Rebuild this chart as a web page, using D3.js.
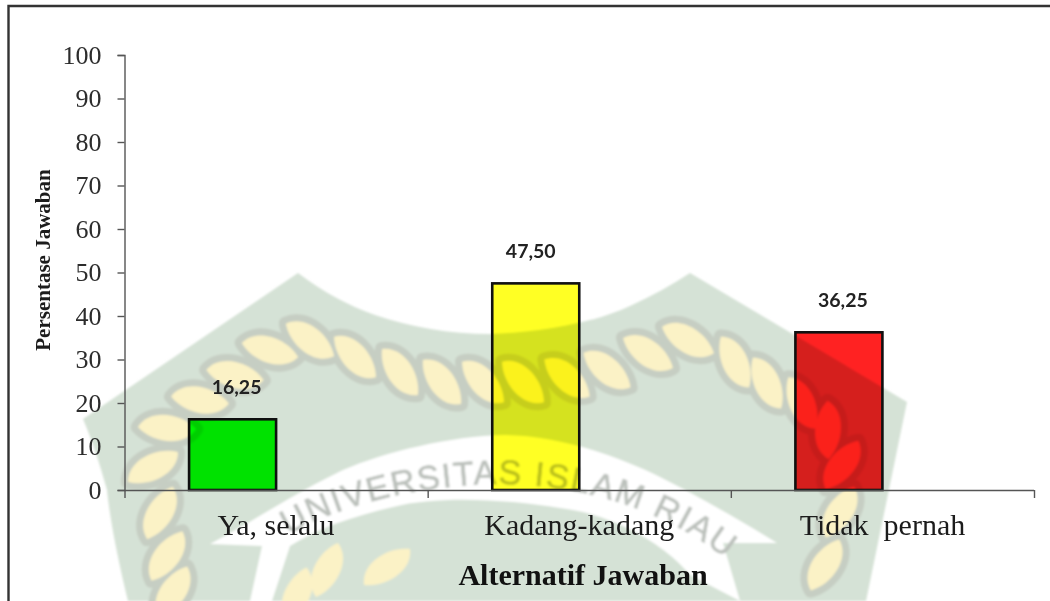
<!DOCTYPE html>
<html>
<head>
<meta charset="utf-8">
<script src="https://cdnjs.cloudflare.com/ajax/libs/d3/7.8.5/d3.min.js"></script>
<style>
html,body{margin:0;padding:0;background:#fff;overflow:hidden}
svg{display:block}
.serif{font-family:"Liberation Serif",serif}
</style>
</head>
<body>
<svg id="chart" width="1050" height="601"></svg>
<script>
// Data
const categories = ["Ya, selalu", "Kadang-kadang", "Tidak  pernah"];
const values = [16.25, 47.5, 36.25];
const valueLabels = ["16,25", "47,50", "36,25"];
const barColors = ["#00ff00", "#ffff24", "#ff2222"];
const yTicks = [0, 10, 20, 30, 40, 50, 60, 70, 80, 90, 100];
const yTitle = "Persentase Jawaban";
const xTitle = "Alternatif Jawaban";
const watermarkText = "UNIVERSITAS ISLAM RIAU";

// Background watermark geometry (decoration, not data): [cx, cy, angle]
const wreathLeaves = [
  [173,592,-55],[167,556,-52],[160,513,-58],[153,467,-25],[167,428,8],[200,400,13],[235,375,16],[270,350,20],
  [310,340,40],[355,357,50],[400,372,58],[442,382,55],[483,382,50],[523,382,50],[567,378,45],[607,370,42],
  [648,353,37],[688,340,33],[735,362,67],[767,383,67],[802,403,68],[828,430,95],[842,465,-50],[840,512,-55],[825,565,-55]
];
const innerLeaves = [[327,570,-62],[387,567,-32],[297,595,-65]];

const svg = d3.select("#chart");
const W = 1050, H = 601;

// ---------- watermark ----------
svg.append("defs").append("filter").attr("id", "soft")
  .attr("x", "-5%").attr("y", "-5%").attr("width", "110%").attr("height", "110%")
  .append("feGaussianBlur").attr("stdDeviation", 1);
const wm = svg.append("g").attr("filter", "url(#soft)");

wm.append("path")
  .attr("d", "M298,273 C320,290 345,304 375,315 C410,327 450,334 490,334 C530,333 590,325 630,306 C652,296 672,285 690,273 L907,402 L866,601 L128,601 C118,560 110,520 107,490 C100,465 92,440 83,419 Z")
  .attr("fill", "#d5e2d6");

// white ribbon
wm.append("path")
  .attr("d", "M210,544 C255,520 300,490 343,470 C385,452 450,436 505,435 C560,436 615,455 660,477 C700,497 740,520 777,543 L723,543 L740,601 L690,575 C670,550 620,515 560,508 C510,500 440,495 393,507 C355,516 320,527 290,546 L272,601 L250,601 L262,546 Z")
  .attr("fill", "#ffffff");

const leafPath = "M-29,3 C-20,-17 12,-17 29,-3 C20,17 -12,17 -29,3 Z";
const allLeaves = wreathLeaves.concat(innerLeaves);
wm.selectAll("path.halo").data(wreathLeaves).join("path").attr("class", "halo")
  .attr("d", leafPath)
  .attr("transform", d => `translate(${d[0]},${d[1]}) rotate(${d[2]})`)
  .attr("fill", "#c6cec3").attr("stroke", "#c6cec3").attr("stroke-width", 14).attr("stroke-linejoin", "round");
wm.selectAll("path.leaf").data(allLeaves).join("path").attr("class", "leaf")
  .attr("d", leafPath)
  .attr("transform", d => `translate(${d[0]},${d[1]}) rotate(${d[2]})`)
  .attr("fill", "#fbf2c6");

wm.append("path").attr("id", "wmArc").attr("fill", "none")
  .attr("d", "M288,535 C340,505 420,484 505,484 C590,486 660,511 716,551");
wm.append("text")
  .attr("font-family", "'Liberation Sans',sans-serif").attr("font-size", 34).attr("fill", "#bcc1bc")
  .attr("stroke", "#bcc1bc").attr("stroke-width", 0.6)
  .append("textPath").attr("href", "#wmArc").attr("textLength", 462).text(watermarkText);

// ---------- frame ----------
svg.append("path").attr("d", `M8.5,${H} V6 H${W}`).attr("fill", "none").attr("stroke", "#333").attr("stroke-width", 2.4);

// ---------- scales ----------
const y = d3.scaleLinear().domain([0, 100]).range([490, 55]);
const x = d3.scaleBand().domain(categories).range([124.5, 1034]);
const xEdges = d3.scaleLinear().domain([0, categories.length]).range(x.range());
const barW = x.bandwidth() * 0.287;
const barX = c => x(c) + x.bandwidth() / 2 - barW;

// ---------- bars ----------
svg.append("g").selectAll("rect").data(categories).join("rect")
  .attr("x", d => barX(d))
  .attr("y", (d, i) => y(values[i]))
  .attr("width", barW)
  .attr("height", (d, i) => y(0) - y(values[i]))
  .attr("fill", (d, i) => barColors[i])
  .attr("stroke", "#111").attr("stroke-width", 2.6)
  .style("mix-blend-mode", "multiply");

// ---------- axes ----------
const axisColor = "#555";
const yAxis = svg.append("g").attr("transform", "translate(124.5,0)")
  .call(d3.axisLeft(y).tickValues(yTicks).tickSize(7).tickPadding(16));
yAxis.selectAll("path,line").attr("stroke", axisColor).attr("stroke-width", 1.4);
yAxis.selectAll("text").attr("class", "serif").attr("font-size", 26).attr("fill", "#2c2c2c");

const edgeAxis = svg.append("g").attr("transform", "translate(0,490)")
  .call(d3.axisBottom(xEdges).tickValues(d3.range(categories.length + 1)).tickSize(8).tickFormat(""));
edgeAxis.selectAll("text").remove();
edgeAxis.selectAll("path,line").attr("stroke", axisColor).attr("stroke-width", 1.4);
edgeAxis.select("path").attr("d", "M124.5,0.5 H1034");

const catAxis = svg.append("g").attr("transform", "translate(0,490)")
  .call(d3.axisBottom(x).tickSize(0).tickPadding(24));
catAxis.select("path").remove();
catAxis.selectAll("line").remove();
catAxis.selectAll("text").attr("class", "serif").attr("font-size", 30).attr("fill", "#1c1c1c")
  .style("white-space", "pre");

// ---------- value labels ----------
const labelNudge = [4, -5, 4];
svg.append("g").selectAll("text").data(categories).join("text")
  .attr("x", (d, i) => barX(d) + barW / 2 + labelNudge[i])
  .attr("y", (d, i) => y(values[i]) - 25.5)
  .attr("text-anchor", "middle")
  .attr("font-family", "Lato,'Open Sans',sans-serif").attr("font-weight", 700).attr("font-size", 19.5)
  .attr("fill", "#222")
  .text((d, i) => valueLabels[i]);

// ---------- titles ----------
svg.append("text").attr("class", "serif")
  .attr("x", 50).attr("y", 260)
  .attr("transform", "rotate(-90,50,260)")
  .attr("text-anchor", "middle").attr("font-weight", 700).attr("font-size", 21).attr("fill", "#1c1c1c")
  .text(yTitle);
svg.append("text").attr("class", "serif")
  .attr("x", 583).attr("y", 585)
  .attr("text-anchor", "middle").attr("font-weight", 700).attr("font-size", 30).attr("fill", "#111")
  .text(xTitle);
</script>
</body>
</html>
